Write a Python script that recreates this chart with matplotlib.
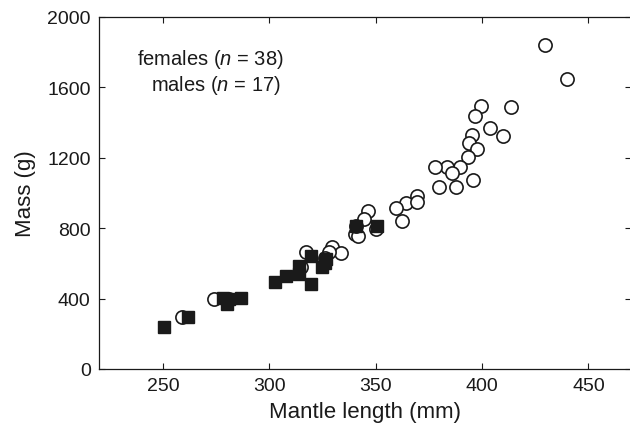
import matplotlib.pyplot as plt

plt.rcParams['font.family'] = ['Liberation Sans', 'DejaVu Sans']
plt.rcParams['mathtext.fontset'] = 'custom'
plt.rcParams['mathtext.rm'] = 'Liberation Sans'
plt.rcParams['mathtext.it'] = 'Liberation Sans:italic'

# females: mantle length (mm), mass (g)
female_len = [429.4, 439.7, 399.4, 396.6, 413.5, 403.6, 395.2, 409.7, 393.8, 397.5,
              393.3, 389.6, 383.5, 377.9, 385.8, 395.7, 379.7, 387.7, 369.4, 364.3,
              369.4, 359.6, 362.4, 346.5, 344.6, 340.4, 341.5, 350.2, 258.9, 273.9,
              317.4, 329.6, 333.8, 328.2, 341.0, 326.0, 315.0, 281.0]
female_mass = [1841, 1648, 1494, 1438, 1489, 1369, 1330, 1324, 1284, 1250,
               1205, 1148, 1148, 1148, 1114, 1074, 1034, 1034, 983, 943,
               949, 915, 841, 898, 852, 767, 756, 795, 295, 398,
               665, 693, 659, 665, 810, 630, 580, 400]

# males
male_len = [250.5, 261.7, 278.1, 280.0, 286.5, 302.9, 308.1, 314.2, 314.2, 319.8,
            319.8, 326.8, 324.9, 340.9, 350.7, 281.0, 326.0]
male_mass = [239, 295, 403, 369, 403, 494, 528, 585, 540, 483,
             642, 625, 580, 812, 812, 398, 600]

fig = plt.figure(figsize=(6.3, 4.35), dpi=100)
ax = fig.add_axes([99 / 630, 1 - 370 / 435, 532 / 630, 352 / 435])

ax.plot(female_len, female_mass, 'o', markersize=9.5, markerfacecolor='white',
        markeredgecolor='#1a1a1a', markeredgewidth=1.2, linestyle='none')
ax.plot(male_len, male_mass, 's', markersize=9, color='#1a1a1a', linestyle='none')

ax.set_xlim(220, 470)
ax.set_ylim(0, 2000)
ax.set_xticks([250, 300, 350, 400, 450])
ax.set_yticks([0, 400, 800, 1200, 1600, 2000])
ax.tick_params(direction='in', length=4, width=0.8, top=True, right=True,
               labelsize=14, pad=6, colors='#1a1a1a')
for s in ax.spines.values():
    s.set_linewidth(0.9)
    s.set_color('#1a1a1a')

ax.set_xlabel('Mantle length (mm)', fontsize=16, color='#1a1a1a', labelpad=5)
ax.set_ylabel('Mass (g)', fontsize=16, color='#1a1a1a', labelpad=8)

fig.text(137 / 630, 1 - 65 / 435, 'females ($n$ = 38)', fontsize=14.5,
         ha='left', va='baseline', color='#1a1a1a')
fig.text(151 / 630, 1 - 91 / 435, 'males ($n$ = 17)', fontsize=14.5,
         ha='left', va='baseline', color='#1a1a1a')

fig.savefig('out.png', dpi=100)
